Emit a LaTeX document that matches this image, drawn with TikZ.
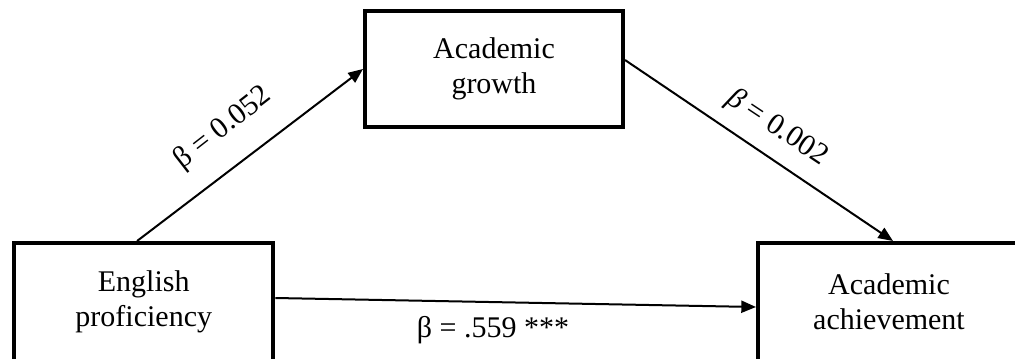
\documentclass[tikz,border=0pt]{standalone}
\usepackage{fontspec}
\setmainfont{Liberation Serif}
\usetikzlibrary{arrows.meta}
\begin{document}
\begin{tikzpicture}[x=0.75pt,y=-0.75pt,
  box/.style={draw, line width=3pt, rectangle, align=center, inner sep=0pt,
    font=\fontsize{22.5}{26.5}\selectfont},
  conn/.style={line width=1.5pt, -{Triangle[length=11pt,width=9pt]}},
  lbl/.style={font=\fontsize{22.5}{26.5}\selectfont, inner sep=0pt}]
\useasboundingbox (0,0) rectangle (1015,358);
\clip (0,0) rectangle (1015,358);
\node[box, minimum width=194.6pt, minimum height=88.5pt] (eng) at (143.75,302) {English\\proficiency};
\node[box, minimum width=193.5pt, minimum height=87pt] (grow) at (494,69) {Academic\\growth};
\node[box, minimum width=196.5pt, minimum height=88.5pt] (ach) at (889,302) {Academic\\achievement};
\draw[conn] ([xshift=-5pt]eng.north) -- (grow.west);
\draw[conn] ([yshift=6.75pt]grow.east) -- ([xshift=3pt]ach.north);
\draw[conn] ([yshift=3pt]eng.east) -- ([yshift=-3.75pt]ach.west);
\node[lbl, rotate=37.9] (l1) at (223,128) {β = 0.052};
\node[lbl, rotate=-33.6] (l2) at (777,128) {\textit{β} = 0.002};
\node[lbl] (l3) at (493,330) {β = .559 ***};
\end{tikzpicture}
\end{document}
